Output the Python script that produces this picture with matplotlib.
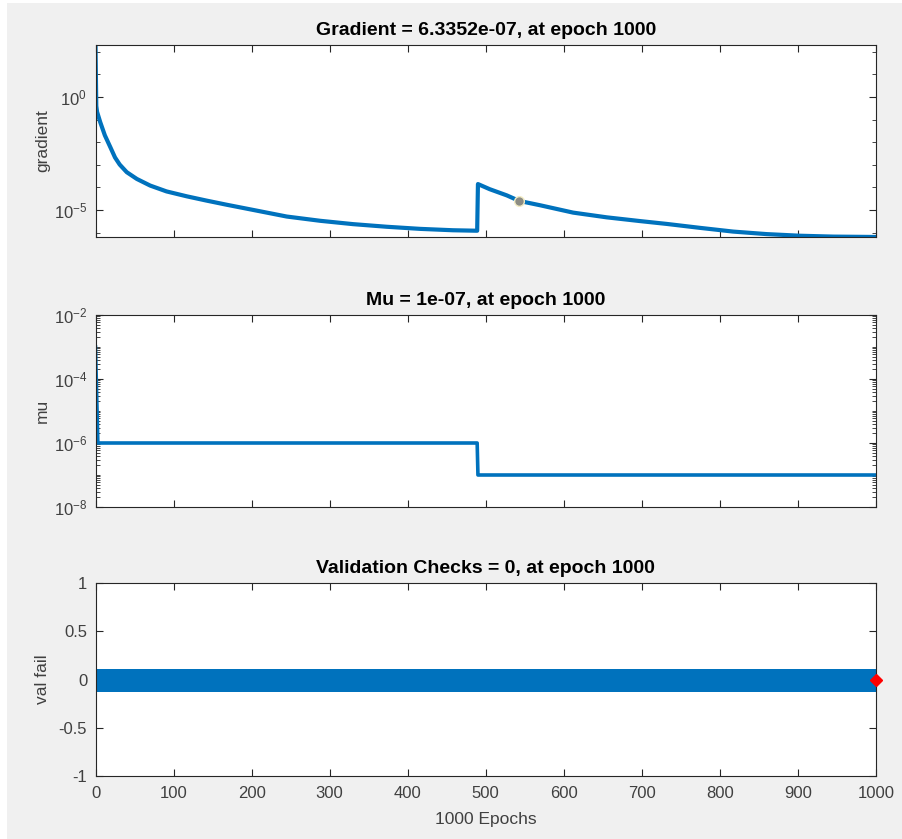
"""Training state plot: gradient, mu and validation checks over 1000 epochs."""

import math

import matplotlib
matplotlib.use("Agg")
import matplotlib.pyplot as plt
from matplotlib.patches import Rectangle
from matplotlib.ticker import FixedLocator, FuncFormatter, NullFormatter

plt.rcParams["font.family"] = ["Liberation Sans", "DejaVu Sans"]
plt.rcParams["mathtext.default"] = "regular"

# gradient (at a handful of epochs)
grad_epochs = [0, 1, 2, 6, 12, 19, 25, 31, 40, 53, 70, 91, 117, 142, 168, 202,
               245, 288, 330, 373, 416, 458, 489, 490, 505, 527, 543, 570, 612,
               655, 698, 732, 775, 817, 860, 903, 945, 988, 1000]
grad_values = [2.0e2, 4.0e-1, 2.2e-1, 7.8e-2, 2.0e-2, 6.0e-3, 2.1e-3, 1.02e-3,
               4.7e-4, 2.35e-4, 1.2e-4, 6.6e-5, 4.0e-5, 2.6e-5, 1.7e-5, 1.0e-5,
               5.1e-6, 3.3e-6, 2.35e-6, 1.8e-6, 1.45e-6, 1.26e-6, 1.2e-6,
               1.4e-4, 8.3e-5, 4.4e-5, 2.5e-5, 1.6e-5, 7.6e-6, 4.7e-6, 3.2e-6,
               2.4e-6, 1.6e-6, 1.1e-6, 8.5e-7, 7.2e-7, 6.6e-7, 6.4e-7, 6.3352e-7]
grad_marker_epoch = 543
grad_marker_value = 2.5e-5

# mu
mu_epochs = [0, 1, 2, 3, 489, 490, 1000]
mu_values = [1e-3, 1e-4, 1e-5, 1e-6, 1e-6, 1e-7, 1e-7]

# validation checks
val_epochs = list(range(0, 1001))
val_fail = [0] * 1001
best_epoch = 1000
best_fail = 0

BLUE = "#0072BD"
INK = "#262626"
TXT = "#404040"

W, H = 902, 839
fig = plt.figure(figsize=(W / 100, H / 100), dpi=100, facecolor="white")
fig.patches.append(Rectangle((7 / W, 0), 1, 1 - 3 / H, transform=fig.transFigure,
                             facecolor="#f0f0f0", edgecolor="none", zorder=-10))

left, width = 95.5 / W, (876 - 95.5) / W


def axes_at(top, bottom):
    return fig.add_axes([left, 1 - bottom / H, width, (bottom - top) / H])


def style(ax, title, ylabel, show_x):
    ax.set_facecolor("white")
    for s in ax.spines.values():
        s.set_color(INK)
        s.set_linewidth(0.8)
    ax.tick_params(which="both", direction="in", top=True, right=True,
                   colors=INK, labelcolor=TXT, labelsize=12)
    ax.tick_params(which="major", length=5)
    ax.tick_params(which="minor", length=3)
    ax.tick_params(axis="y", pad=6)
    ax.tick_params(axis="x", pad=7)
    ax.set_xlim(0, 1000)
    ax.set_xticks(range(0, 1001, 100))
    if not show_x:
        ax.set_xticklabels([])
    ax.set_title(title, fontsize=14, fontweight="bold", color="black", pad=7)
    ax.set_ylabel(ylabel, fontsize=12.5, color=TXT)
    ax.yaxis.set_label_coords(-0.058, 0.5)


def pow10(v, _):
    return r"$10^{%d}$" % round(math.log10(v))


# gradient
ax1 = axes_at(45, 237)
ax1.semilogy(grad_epochs, grad_values, color=BLUE, lw=3)
ax1.plot(grad_marker_epoch, grad_marker_value, "o", ms=7, mfc="#8c8c84",
         mec="#f2ecc4", mew=1)
ax1.set_ylim(6.3352e-7, 2.0e2)
ax1.yaxis.set_major_locator(FixedLocator([1e0, 1e-5]))
ax1.yaxis.set_major_formatter(FuncFormatter(pow10))
ax1.yaxis.set_minor_locator(FixedLocator([10.0 ** k for k in range(-6, 3)]))
ax1.yaxis.set_minor_formatter(NullFormatter())
style(ax1, "Gradient = 6.3352e-07, at epoch 1000", "gradient", False)

# mu
ax2 = axes_at(315, 507)
ax2.semilogy(mu_epochs, mu_values, color=BLUE, lw=2.6)
ax2.set_ylim(1e-8, 1e-2)
ax2.yaxis.set_major_locator(FixedLocator([1e-8, 1e-6, 1e-4, 1e-2]))
ax2.yaxis.set_major_formatter(FuncFormatter(pow10))
ax2.yaxis.set_minor_locator(FixedLocator(
    [m * 10.0 ** k for k in range(-8, -2) for m in range(1, 10)]))
ax2.yaxis.set_minor_formatter(NullFormatter())
style(ax2, "Mu = 1e-07, at epoch 1000", "mu", False)

# validation checks
ax3 = axes_at(583, 776)
ax3.plot(val_epochs, val_fail, color=BLUE, lw=2, marker="o", ms=15.5,
         mec=BLUE, mfc=BLUE)
ax3.plot(best_epoch, best_fail, "D", ms=6, color="red", clip_on=False, zorder=5)
ax3.set_ylim(-1, 1)
ax3.set_yticks([-1, -0.5, 0, 0.5, 1])
ax3.yaxis.set_major_formatter(FuncFormatter(lambda v, _: f"{v:g}"))
style(ax3, "Validation Checks = 0, at epoch 1000", "val fail", True)
ax3.set_xlabel("1000 Epochs", fontsize=12.5, color=TXT, labelpad=8)

fig.savefig("out.png", dpi=100, facecolor=fig.get_facecolor())
